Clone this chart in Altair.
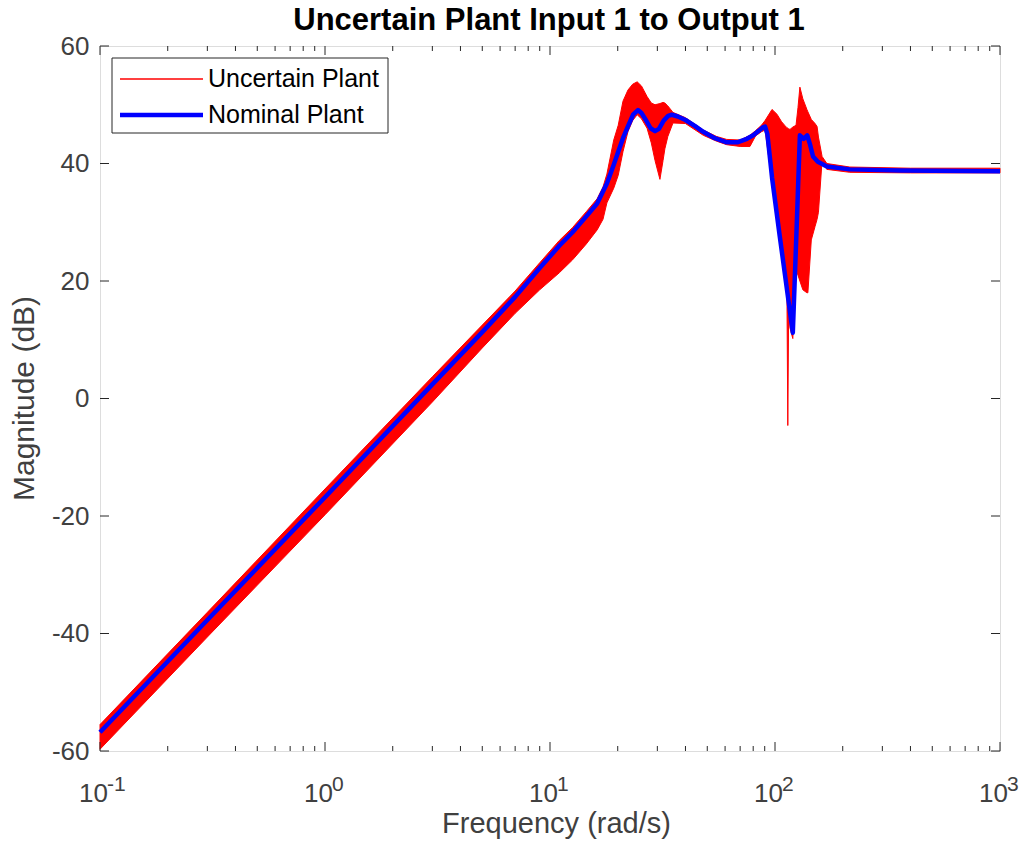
import altair as alt
import pandas as pd

# Nominal plant magnitude (dB) vs frequency (rad/s)
nom_freq = [0.1, 0.3, 1, 3, 5, 7, 9, 11, 12.6, 14.5, 16.2, 17.9, 19.2, 20.1, 21.1, 22.2,
            23.4, 24.6, 25.5, 26.5, 28, 29.3, 30.5, 32, 33.5, 34.8, 37, 40, 44, 48, 54,
            61, 68, 75, 80, 85, 88, 90.3, 92.5, 97, 105, 114, 120, 124.5, 129, 134, 139,
            143, 147.6, 155, 170, 215, 360, 1000]
nom_db = [-56.8, -37.7, -16.8, 2.4, 11.3, 17.3, 22.2, 26.0, 28.3, 31.0, 33.2, 36.6, 39.8,
          42.0, 44.3, 46.3, 48.3, 49.1, 48.6, 47.6, 46.0, 45.5, 45.9, 47.3, 48.1, 48.3,
          48.0, 47.4, 46.4, 45.4, 44.3, 43.6, 43.6, 44.2, 44.8, 45.6, 46.1, 46.3, 45.0,
          37.6, 27.6, 17.5, 11.2, 28.0, 44.8, 44.2, 44.8, 43.3, 41.2, 40.3, 39.5, 39.0,
          38.8, 38.7]

# Uncertain plant envelope (upper / lower bound of sampled responses)
unc_freq = [0.1, 0.3, 1, 3, 5, 7, 9, 11, 12.6, 14.5, 16.2, 17.2, 17.9, 19.2, 20.1, 21.1,
            22.2, 23.3, 24.4, 25.5, 27, 28.2, 29.3, 30.8, 31.8, 32.4, 33.4, 35.2, 40, 48,
            55, 61, 70, 77.4, 82, 87, 90.3, 97, 102, 107, 111, 113, 114, 115, 116.6, 120,
            124, 126.5, 129, 133, 138.6, 140, 145, 150.7, 153.8, 156, 161.9, 170, 215,
            400, 1000]
unc_upper = [-55.5, -36.4, -15.4, 3.7, 12.5, 18.3, 23.1, 26.9, 29.1, 31.8, 34.0, 36.0,
             38.2, 44.0, 46.5, 50.6, 52.5, 53.5, 53.9, 53.2, 51.4, 50.3, 50.0, 50.2, 50.4,
             50.3, 49.8, 48.7, 47.8, 45.7, 44.6, 44.1, 44.0, 44.8, 45.6, 46.5, 47.3, 49.2,
             48.4, 47.1, 46.4, 46.1, 46.0, 45.9, 45.8, 46.2, 46.5, 49.5, 53.0, 51.0, 49.2,
             48.8, 47.5, 46.8, 46.3, 44.5, 41.2, 40.0, 39.4, 39.2, 39.2]
unc_lower = [-59.7, -40.6, -19.8, -0.6, 8.6, 14.5, 18.5, 21.4, 23.6, 26.3, 28.7, 30.5,
             33.3, 35.8, 38.0, 42.0, 45.4, 47.3, 48.3, 47.6, 46.0, 43.5, 40.5, 37.3, 40.5,
             42.5, 44.6, 46.9, 46.8, 44.8, 43.8, 43.2, 42.9, 42.9, 44.7, 45.4, 45.7, 37.0,
             31.5, 25.5, 20.5, 17.5, -4.6, 15.5, 12.0, 10.2, 22.0, 21.0, 20.0, 18.5, 18.0,
             18.0, 27.0, 29.3, 30.5, 31.7, 40.5, 39.0, 38.5, 38.4, 38.4]

x_major = [0.1, 1, 10, 100, 1000]
x_exponents = ["-1", "0", "1", "2", "3"]
x_minor = [m * d for d in [0.1, 1, 10, 100] for m in range(2, 10)]
y_ticks = [-60, -40, -20, 0, 20, 40, 60]

W, H = 900, 705
FONT = "Liberation Sans"
AX = "#262626"
LBL = "#404040"

nom = pd.DataFrame({"f": nom_freq, "db": nom_db})
unc = pd.DataFrame({"f": unc_freq, "up": unc_upper, "lo": unc_lower})

xscale = alt.Scale(type="log", domain=[0.1, 1000], nice=False)
yscale = alt.Scale(domain=[-60, 60], nice=False)

xaxis = alt.Axis(values=x_major, labels=False, ticks=False, domain=False, grid=False,
                 title="Frequency (rad/s)", titleFont=FONT, titleFontSize=29,
                 titleFontWeight="normal", titleColor=LBL, titleX=456, titleY=81,
                 titleBaseline="alphabetic", titleAlign="center")
yaxis = alt.Axis(values=y_ticks, ticks=False, domain=False, grid=False,
                 labelExpr="datum.value < 0 ? '-' + abs(datum.value) : '' + datum.value",
                 labelFont=FONT, labelFontSize=26, labelColor=LBL, labelPadding=11,
                 title="Magnitude (dB)", titleFont=FONT, titleFontSize=30,
                 titleFontWeight="normal", titleColor=LBL, titleX=-67, titleY=352,
                 titleBaseline="alphabetic", titleAlign="center", titleAngle=270)

area = alt.Chart(unc).mark_area(color="#ff0000", stroke="#ff0000", strokeWidth=1, opacity=1).encode(
    x=alt.X("f:Q", scale=xscale, axis=xaxis),
    y=alt.Y("up:Q", scale=yscale, axis=yaxis),
    y2="lo:Q",
)

line = alt.Chart(nom).mark_line(color="#0000ff", strokeWidth=4.5, strokeJoin="round").encode(
    x=alt.X("f:Q", scale=xscale),
    y=alt.Y("db:Q", scale=yscale),
)

# inward ticks (box style)
xmaj = pd.DataFrame({"f": x_major, "e": x_exponents})
xmin = pd.DataFrame({"f": x_minor})
ytk = pd.DataFrame({"v": y_ticks})
tick_style = dict(color=AX, strokeWidth=1)
ticks = [
    alt.Chart(xmaj).mark_rule(**tick_style).encode(x=alt.X("f:Q", scale=xscale), y=alt.value(H), y2=alt.value(H - 9)),
    alt.Chart(xmaj).mark_rule(**tick_style).encode(x=alt.X("f:Q", scale=xscale), y=alt.value(0), y2=alt.value(9)),
    alt.Chart(xmin).mark_rule(**tick_style).encode(x=alt.X("f:Q", scale=xscale), y=alt.value(H), y2=alt.value(H - 5)),
    alt.Chart(xmin).mark_rule(**tick_style).encode(x=alt.X("f:Q", scale=xscale), y=alt.value(0), y2=alt.value(5)),
    alt.Chart(ytk).mark_rule(**tick_style).encode(y=alt.Y("v:Q", scale=yscale), x=alt.value(0), x2=alt.value(9)),
    alt.Chart(ytk).mark_rule(**tick_style).encode(y=alt.Y("v:Q", scale=yscale), x=alt.value(W), x2=alt.value(W - 9)),
]

# x tick labels: 10 with superscript exponent
base_lbl = alt.Chart(xmaj).mark_text(text="10", font=FONT, fontSize=26, color=LBL, align="right",
                                     baseline="alphabetic", dx=8).encode(
    x=alt.X("f:Q", scale=xscale), y=alt.value(756))
exp_lbl = alt.Chart(xmaj).mark_text(font=FONT, fontSize=21, color=LBL, align="left",
                                    baseline="alphabetic", dx=7).encode(
    x=alt.X("f:Q", scale=xscale), y=alt.value(745), text="e:N")

one = pd.DataFrame({"a": [0]})
title = alt.Chart(one).mark_text(text="Uncertain Plant Input 1 to Output 1", font=FONT, fontSize=31,
                                 fontWeight="bold", color="black", align="center",
                                 baseline="alphabetic").encode(x=alt.value(449), y=alt.value(-16))
leg_box = alt.Chart(one).mark_rect(fill="white", stroke=AX, strokeWidth=1).encode(
    x=alt.value(12), x2=alt.value(288), y=alt.value(12), y2=alt.value(87))
leg_red = alt.Chart(one).mark_rule(color="#ff0000", strokeWidth=1.5).encode(
    x=alt.value(20), x2=alt.value(103), y=alt.value(33))
leg_blue = alt.Chart(one).mark_rule(color="#0000ff", strokeWidth=4.5).encode(
    x=alt.value(20), x2=alt.value(103), y=alt.value(69))
leg_t1 = alt.Chart(one).mark_text(text="Uncertain Plant", font=FONT, fontSize=25, color="black",
                                  align="left", baseline="middle").encode(x=alt.value(108), y=alt.value(33))
leg_t2 = alt.Chart(one).mark_text(text="Nominal Plant", font=FONT, fontSize=25, color="black",
                                  align="left", baseline="middle").encode(x=alt.value(108), y=alt.value(69))

chart = alt.layer(area, line, *ticks, base_lbl, exp_lbl, title,
                  leg_box, leg_red, leg_blue, leg_t1, leg_t2).properties(
    width=W, height=H,
    autosize=alt.AutoSizeParams(type="none"),
    padding={"left": 100, "top": 46, "right": 26, "bottom": 101},
).configure_view(stroke=AX, strokeWidth=1).configure(background="white")

chart.save("out.html", embed_options={"renderer": "svg", "actions": False})
